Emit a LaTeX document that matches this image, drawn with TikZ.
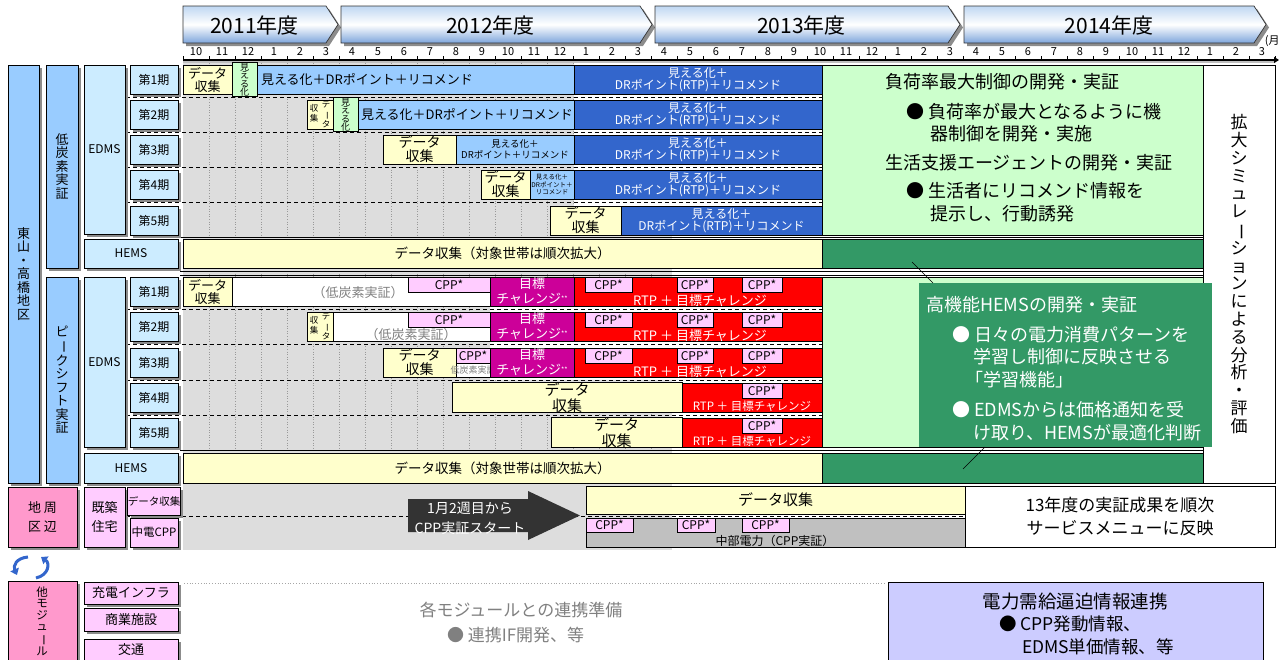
\documentclass[tikz,border=0pt]{standalone}
\usepackage{fontspec}
\setmainfont{Noto Sans CJK JP}
\usepackage{graphicx}
\usetikzlibrary{shadows,arrows.meta}
\definecolor{cLblue}{HTML}{CCECFF}
\definecolor{cMblue}{HTML}{99CCFF}
\definecolor{cDblue}{HTML}{3366CC}
\definecolor{cYel}{HTML}{FFFFCC}
\definecolor{cLgreen}{HTML}{CCFFCC}
\definecolor{cDgreen}{HTML}{339966}
\definecolor{cMag}{HTML}{CC0099}
\definecolor{cRed}{HTML}{FF0000}
\definecolor{cPink}{HTML}{FFCCFF}
\definecolor{cRose}{HTML}{FF99CC}
\definecolor{cPurp}{HTML}{CCCCFF}
\definecolor{cGrayBg}{HTML}{DDDDDD}
\definecolor{cGrayBox}{HTML}{C0C0C0}
\definecolor{cArrow}{HTML}{333333}
\definecolor{hdtop}{HTML}{BFD7F2}
\definecolor{hdbot}{HTML}{7EA6DC}
\newcommand\fs[2]{\fontsize{#1}{#2}\selectfont}
\newcommand\vb{\rotatebox[origin=c]{-90}{ー}}
\newcommand\R[7]{\node[#1,minimum width={#5pt-#3pt},minimum height={#6pt-#4pt}] (#2) at ({(#3+#5)/2},{(#4+#6)/2}) {#7};}
\newcommand\yr[4]{%
 \fill[black!45] ({#2+3},9) -- ({#3-12+3},9) -- ({#3+3},27.5) -- ({#3-12+3},46) -- ({#2+3},46) -- cycle;
 \draw[draw=black!80,line width=0.7pt,top color=hdtop,bottom color=hdbot,middle color=white] (#2,6) -- ({#3-12},6) -- (#3,24.5) -- ({#3-12},43) -- (#2,43) -- cycle;
 \node[txt,font=\fs{21}{22}] (#1) at ({(#2+#3-12)/2},25) {#4};}
\begin{document}
\begin{tikzpicture}[x=1pt,y=-1pt,
 txt/.style={inner sep=0pt,outer sep=0pt},
 wtxt/.style={txt,text=white},
 gtxt/.style={txt,text=black!50},
 box/.style={draw=black,line width=0.8pt,align=center,inner sep=0pt,outer sep=0pt,font=\fs{13}{14}},
 shd/.style={drop shadow={shadow xshift=3pt,shadow yshift=-3pt,fill=black!45,opacity=1}},
 lab/.style={box,fill=cLblue,shd,font=\fs{12}{13.5}},
 yel/.style={box,fill=cYel,font=\fs{14}{14}},
 grn/.style={box,fill=cLgreen},
 lb/.style={box,fill=cMblue},
 db/.style={box,fill=cDblue,text=white,font=\fs{12}{12.5}},
 mg/.style={box,fill=cMag,text=white,font=\fs{13}{15}},
 rd/.style={box,fill=cRed},
 cpp/.style={box,fill=cPink,font=\fs{12}{13}},
 wh/.style={box,fill=white},
 dg/.style={box,fill=cDgreen},
 sep/.style={line width=0.8pt,dash pattern=on 4pt off 3pt},
 ln/.style={line width=0.8pt}]
\useasboundingbox (0,0) rectangle (1280,659);

% ---- year headers
\yr{y11}{183}{338}{2011年度}
\yr{y12}{341}{652}{2012年度}
\yr{y13}{655}{960}{2013年度}
\yr{y14}{964}{1266}{2014年度}
\node[txt,anchor=east,font=\fs{11}{12}] (unit) at (1279.5,41) {(月};

% ---- month axis
\fill[black!25] (183,60) rectangle (1275,63);
\draw[line width=1.5pt,-{Triangle[length=5pt,width=6pt]}] (183,60) -- (1279,60);
\foreach \m in {0,...,42}{\draw[line width=0.8pt] ({183+26*\m},56) -- ({183+26*\m},60);}
\foreach \m in {0,...,41}{\pgfmathtruncatemacro\mm{mod(\m+9,12)+1}\node[txt,font=\fs{11}{12}] (mon\m) at ({196+26*\m},52) {\mm};}

% ---- background and grid
\fill[cGrayBg] (183,63) rectangle (672,550);
\foreach \m in {1,...,18}{\draw[black!40,dotted,line width=0.6pt] ({183+26*\m},63) -- ({183+26*\m},484);}
\fill[white] (574,63) rectangle (822,236);
\fill[white] (490,277) rectangle (822,380);
\fill[white] (682,380) rectangle (822,448);

% ---- separators
\foreach \y in {97,132,167,202.5}{\draw[sep] (126,\y) -- (822,\y);}
\foreach \y in {309,344.5,380,415}{\draw[sep] (126,\y) -- (822,\y);}
\draw[sep] (126,516.5) -- (965,516.5);
\draw[ln] (180,237.5) -- (1203,237.5);
\draw[ln] (180,271) -- (1203,271);
\draw[ln] (180,275) -- (1203,275);
\draw[ln] (180,450.5) -- (1203,450.5);

% ---- left labels
\R{lab,fill=cMblue,font=\fs{13}{13.5}}{col1}{8}{65}{39}{483}{東\\山\\・\\高\\橋\\地\\区}
\R{lab,fill=cMblue,font=\fs{13}{13.5}}{col2}{46}{65}{78}{268}{低\\炭\\素\\実\\証}
\R{lab,fill=cMblue,font=\fs{13}{13.5}}{col3}{46}{277}{78}{483}{ピ\\\vb\\ク\\シ\\フ\\ト\\実\\証}
\R{lab}{edmsA}{84}{65}{125}{234}{EDMS}
\R{lab}{la1}{130}{65}{178}{94}{第1期}
\R{lab}{la2}{130}{100}{178}{129}{第2期}
\R{lab}{la3}{130}{135}{178}{164}{第3期}
\R{lab}{la4}{130}{170}{178}{199}{第4期}
\R{lab}{la5}{130}{206}{178}{235}{第5期}
\R{lab}{hemsA}{84}{239}{178}{268}{HEMS}
\R{lab}{edmsB}{84}{277}{125}{447}{EDMS}
\R{lab}{lb1}{130}{277}{178}{306}{第1期}
\R{lab}{lb2}{130}{312}{178}{341}{第2期}
\R{lab}{lb3}{130}{348}{178}{377}{第3期}
\R{lab}{lb4}{130}{383}{178}{412}{第4期}
\R{lab}{lb5}{130}{418}{178}{447}{第5期}
\R{lab}{hemsB}{84}{453}{178}{483}{HEMS}
\R{lab,fill=cRose,font=\fs{13}{19}}{chiiki}{8}{487}{77}{547}{地 周\\区 辺}
\R{lab,fill=cPink,font=\fs{13}{19}}{kichiku}{84}{487}{125}{547}{既築\\住宅}
\R{lab,fill=cPink,font=\fs{10.5}{11}}{dcl}{130}{487}{178}{515}{データ収集}
\R{lab,fill=cPink,font=\fs{11.5}{12}}{cpl}{130}{518}{178}{547}{中電CPP}
\R{lab,fill=cRose}{other}{8}{581}{77}{700}{}
\node[txt,align=center,font=\fs{11.5}{11.5}] (othert) at (42,621) {他\\モ\\ジ\\ュ\\\vb\\ル};
\R{lab,fill=cPink,font=\fs{13}{14}}{m1}{84}{582}{178}{604}{充電インフラ}
\R{lab,fill=cPink,font=\fs{13}{14}}{m2}{84}{608}{178}{631}{商業施設}
\R{lab,fill=cPink,font=\fs{13}{14}}{m3}{84}{639}{178}{661}{交通}

% ---- low carbon EDMS rows
\R{yel,font=\fs{13}{13}}{a1d}{183}{65}{232}{94}{データ\\収集}
\R{grn,font=\fs{9}{8.5}}{a1v}{232}{65}{257}{94}{見\\え\\る\\化}
\R{lb}{a1m}{257}{65}{574}{94}{}
\node[txt,anchor=west,font=\fs{13}{14}] (a1mt) at (261,79.5) {見える化＋DRポイント＋リコメンド};
\R{db}{a1r}{574}{65}{822}{94}{見える化＋\\DRポイント(RTP)＋リコメンド}

\R{yel}{a2d}{307}{100}{333}{129}{}
\node[txt,align=center,font=\fs{8.5}{10}] (a2dl) at (314,113) {収\\集};
\node[txt,align=center,font=\fs{8.5}{10}] (a2dr) at (326,114) {デ\\\vb\\タ};
\R{grn,font=\fs{9}{8.5}}{a2v}{333}{100}{358}{129}{見\\え\\る\\化}
\R{lb}{a2m}{358}{100}{574}{129}{}
\node[txt,anchor=west,font=\fs{13}{14}] (a2mt) at (361,114.5) {見える化＋DRポイント＋リコメンド};
\R{db}{a2r}{574}{100}{822}{129}{見える化＋\\DRポイント(RTP)＋リコメンド}

\R{yel}{a3d}{383}{135}{456}{164}{データ\\収集}
\R{lb,font=\fs{9.5}{11}}{a3m}{456}{135}{574}{164}{見える化＋\\DRポイント＋リコメンド}
\R{db}{a3r}{574}{135}{822}{164}{見える化＋\\DRポイント(RTP)＋リコメンド}

\R{yel}{a4d}{481}{170}{530}{199}{データ\\収集}
\R{lb,font=\fs{6.5}{7.5}}{a4m}{530}{170}{574}{199}{見える化＋\\DRポイント＋\\リコメンド}
\R{db}{a4r}{574}{170}{822}{199}{見える化＋\\DRポイント(RTP)＋リコメンド}

\R{yel}{a5d}{550}{206}{621}{235}{データ\\収集}
\R{db}{a5r}{621}{206}{822}{235}{見える化＋\\DRポイント(RTP)＋リコメンド}

\R{yel,font=\fs{13.5}{14}}{ahem}{183}{239}{822}{268}{データ収集（対象世帯は順次拡大）}
\R{dg}{ahemg}{822}{239}{1203}{268}{}
\R{grn}{agreen}{822}{65}{1203}{235}{}
\node[txt,anchor=west,font=\fs{18}{20}] (g1) at (885,82) {負荷率最大制御の開発・実証};
\node[txt,anchor=west,font=\fs{18}{20}] (g2) at (906,112) {● 負荷率が最大となるように機};
\node[txt,anchor=west,font=\fs{18}{20}] (g3) at (930,134) {器制御を開発・実施};
\node[txt,anchor=west,font=\fs{18}{20}] (g4) at (885,163) {生活支援エージェントの開発・実証};
\node[txt,anchor=west,font=\fs{18}{20}] (g5) at (906,191) {● 生活者にリコメンド情報を};
\node[txt,anchor=west,font=\fs{18}{20}] (g6) at (930,214) {提示し、行動誘発};

% ---- peak shift EDMS rows
\R{yel,font=\fs{13}{13}}{b1d}{183}{277}{232}{306}{データ\\収集}
\R{wh}{b1w}{232}{277}{490}{306}{}
\node[gtxt,font=\fs{13}{14}] (b1wt) at (358,293) {（低炭素実証）};
\R{cpp}{b1c}{408}{277}{490}{292}{CPP*}

\R{yel}{b2d}{307}{312}{333}{341}{}
\node[txt,align=center,font=\fs{8.5}{10}] (b2dl) at (314,325) {収\\集};
\node[txt,align=center,font=\fs{8.5}{10}] (b2dr) at (326,326) {デ\\\vb\\タ};
\R{wh}{b2w}{333}{312}{490}{341}{}
\node[gtxt,font=\fs{13}{14}] (b2wt) at (411,335) {（低炭素実証）};
\R{cpp}{b2c}{408}{312}{490}{327}{CPP*}

\R{yel}{b3d}{383}{348}{456}{377}{データ\\収集}
\R{wh}{b3w}{456}{348}{490}{377}{}
\node[gtxt,font=\fs{9}{10}] (b3wt) at (473,370) {低炭素実証};
\R{cpp}{b3c}{456}{348}{490}{363}{CPP*}

\foreach \t [count=\i] in {277,312,348}{
 \R{mg}{bm\i}{490}{\t}{574}{\t+29}{目標\\チャレンジ\raisebox{2pt}{\fs{7}{7}**}}
 \R{rd}{br\i}{574}{\t}{822}{\t+29}{}
 \node[wtxt,font=\fs{13}{14}] (brt\i) at (700,\t+24) {RTP ＋ 目標チャレンジ};
 \R{cpp}{bc\i a}{585}{\t}{632}{\t+15}{CPP*}
 \R{cpp}{bc\i b}{677}{\t}{713}{\t+15}{CPP*}
 \R{cpp}{bc\i c}{742}{\t}{782}{\t+15}{CPP*}
}
\R{yel,font=\fs{15}{16}}{b4d}{452}{383}{682}{412}{データ\\収集}
\R{rd}{br4}{682}{383}{822}{412}{}
\node[wtxt,font=\fs{11.5}{12}] (brt4) at (752,406) {RTP ＋ 目標チャレンジ};
\R{cpp}{bc4}{742}{383}{782}{398}{CPP*}
\R{yel,font=\fs{15}{16}}{b5d}{551}{418}{682}{447}{データ\\収集}
\R{rd}{br5}{682}{418}{822}{447}{}
\node[wtxt,font=\fs{11.5}{12}] (brt5) at (752,441) {RTP ＋ 目標チャレンジ};
\R{cpp}{bc5}{742}{418}{782}{433}{CPP*}

\R{grn}{bgreen}{822}{277}{1203}{447}{}
\R{yel,font=\fs{13.5}{14}}{bhem}{183}{453}{822}{483}{データ収集（対象世帯は順次拡大）}
\R{dg}{bhemg}{822}{453}{1203}{483}{}

% ---- simulation column
\R{box,fill=white,font=\fs{17}{17.8}}{sim}{1203}{65}{1275}{483}{拡\\大\\シ\\ミ\\ュ\\レ\\\vb\\シ\\ョ\\ン\\に\\よ\\る\\分\\析\\・\\評\\価}

% ---- advanced HEMS callout
\node[txt,fill=cDgreen,minimum width=293pt,minimum height=164pt] (hh) at (1065.5,365) {};
\coordinate (c1) at (912,262);
\coordinate (c2) at (933,283);
\coordinate (c3) at (985,447);
\coordinate (c4) at (963,469);
\draw[line width=0.6pt] (c1) -- (c2);
\draw[line width=0.6pt] (c3) -- (c4);
\node[wtxt,anchor=west,font=\fs{18}{20}] (h1) at (926,305) {高機能HEMSの開発・実証};
\node[wtxt,anchor=west,font=\fs{18}{20}] (h2) at (952,335) {● 日々の電力消費パターンを};
\node[wtxt,anchor=west,font=\fs{18}{20}] (h3) at (973,357) {学習し制御に反映させる};
\node[wtxt,anchor=west,font=\fs{18}{20}] (h4) at (965,380) {「学習機能」};
\node[wtxt,anchor=west,font=\fs{18}{20}] (h5) at (952,410) {● EDMSからは価格通知を受};
\node[wtxt,anchor=west,font=\fs{18}{20}] (h6) at (973,433) {け取り、HEMSが最適化判断};

% ---- surrounding area rows
\draw[fill=cArrow,draw=none] (408,499) -- (528,499) -- (528,491) -- (580,515.5) -- (528,540) -- (528,532) -- (408,532) -- cycle;
\node[wtxt,align=center,font=\fs{14}{20}] (arrt) at (470,518) {1月2週目から\\CPP実証スタート};
\R{yel,font=\fs{15}{16}}{cd}{586}{486}{965}{514}{データ収集}
\R{box,fill=cGrayBox}{cg}{586}{518}{965}{547}{}
\node[txt,font=\fs{12}{13}] (cgt) at (775,541) {中部電力（CPP実証）};
\R{cpp}{cc1}{586}{518}{633}{532}{CPP*}
\R{cpp}{cc2}{677}{518}{715}{532}{CPP*}
\R{cpp}{cc3}{742}{518}{789}{532}{CPP*}
\R{wh,font=\fs{17}{23}}{cw}{965}{486}{1275}{547}{13年度の実証成果を順次\\サービスメニューに反映}

% ---- cycle arrows
\draw[cDblue,line width=3pt,-{Triangle[length=6pt,width=9pt]}] (28,557) .. controls (16,558) and (13,566) .. (17,575);
\draw[cDblue,line width=3pt,-{Triangle[length=6pt,width=9pt]}] (36,578) .. controls (49,575) and (50,563) .. (41,557);

% ---- other modules
\draw[black!35,dotted,line width=0.8pt] (184,583) -- (885,583);
\node[gtxt,font=\fs{17}{18}] (prep) at (521,610) {各モジュールとの連携準備};
\node[gtxt,anchor=west,font=\fs{17}{18}] (prep2) at (447,635) {● 連携IF開発、等};
\R{box,fill=cPurp}{pb}{888}{582}{1263}{680}{}
\node[txt,font=\fs{18.5}{20}] (pb1) at (1075,601) {電力需給逼迫情報連携};
\node[txt,anchor=west,font=\fs{17.5}{19}] (pb2) at (999,624) {● CPP発動情報、};
\node[txt,anchor=west,font=\fs{17.5}{19}] (pb3) at (1022,647) {EDMS単価情報、等};
\end{tikzpicture}
\end{document}
